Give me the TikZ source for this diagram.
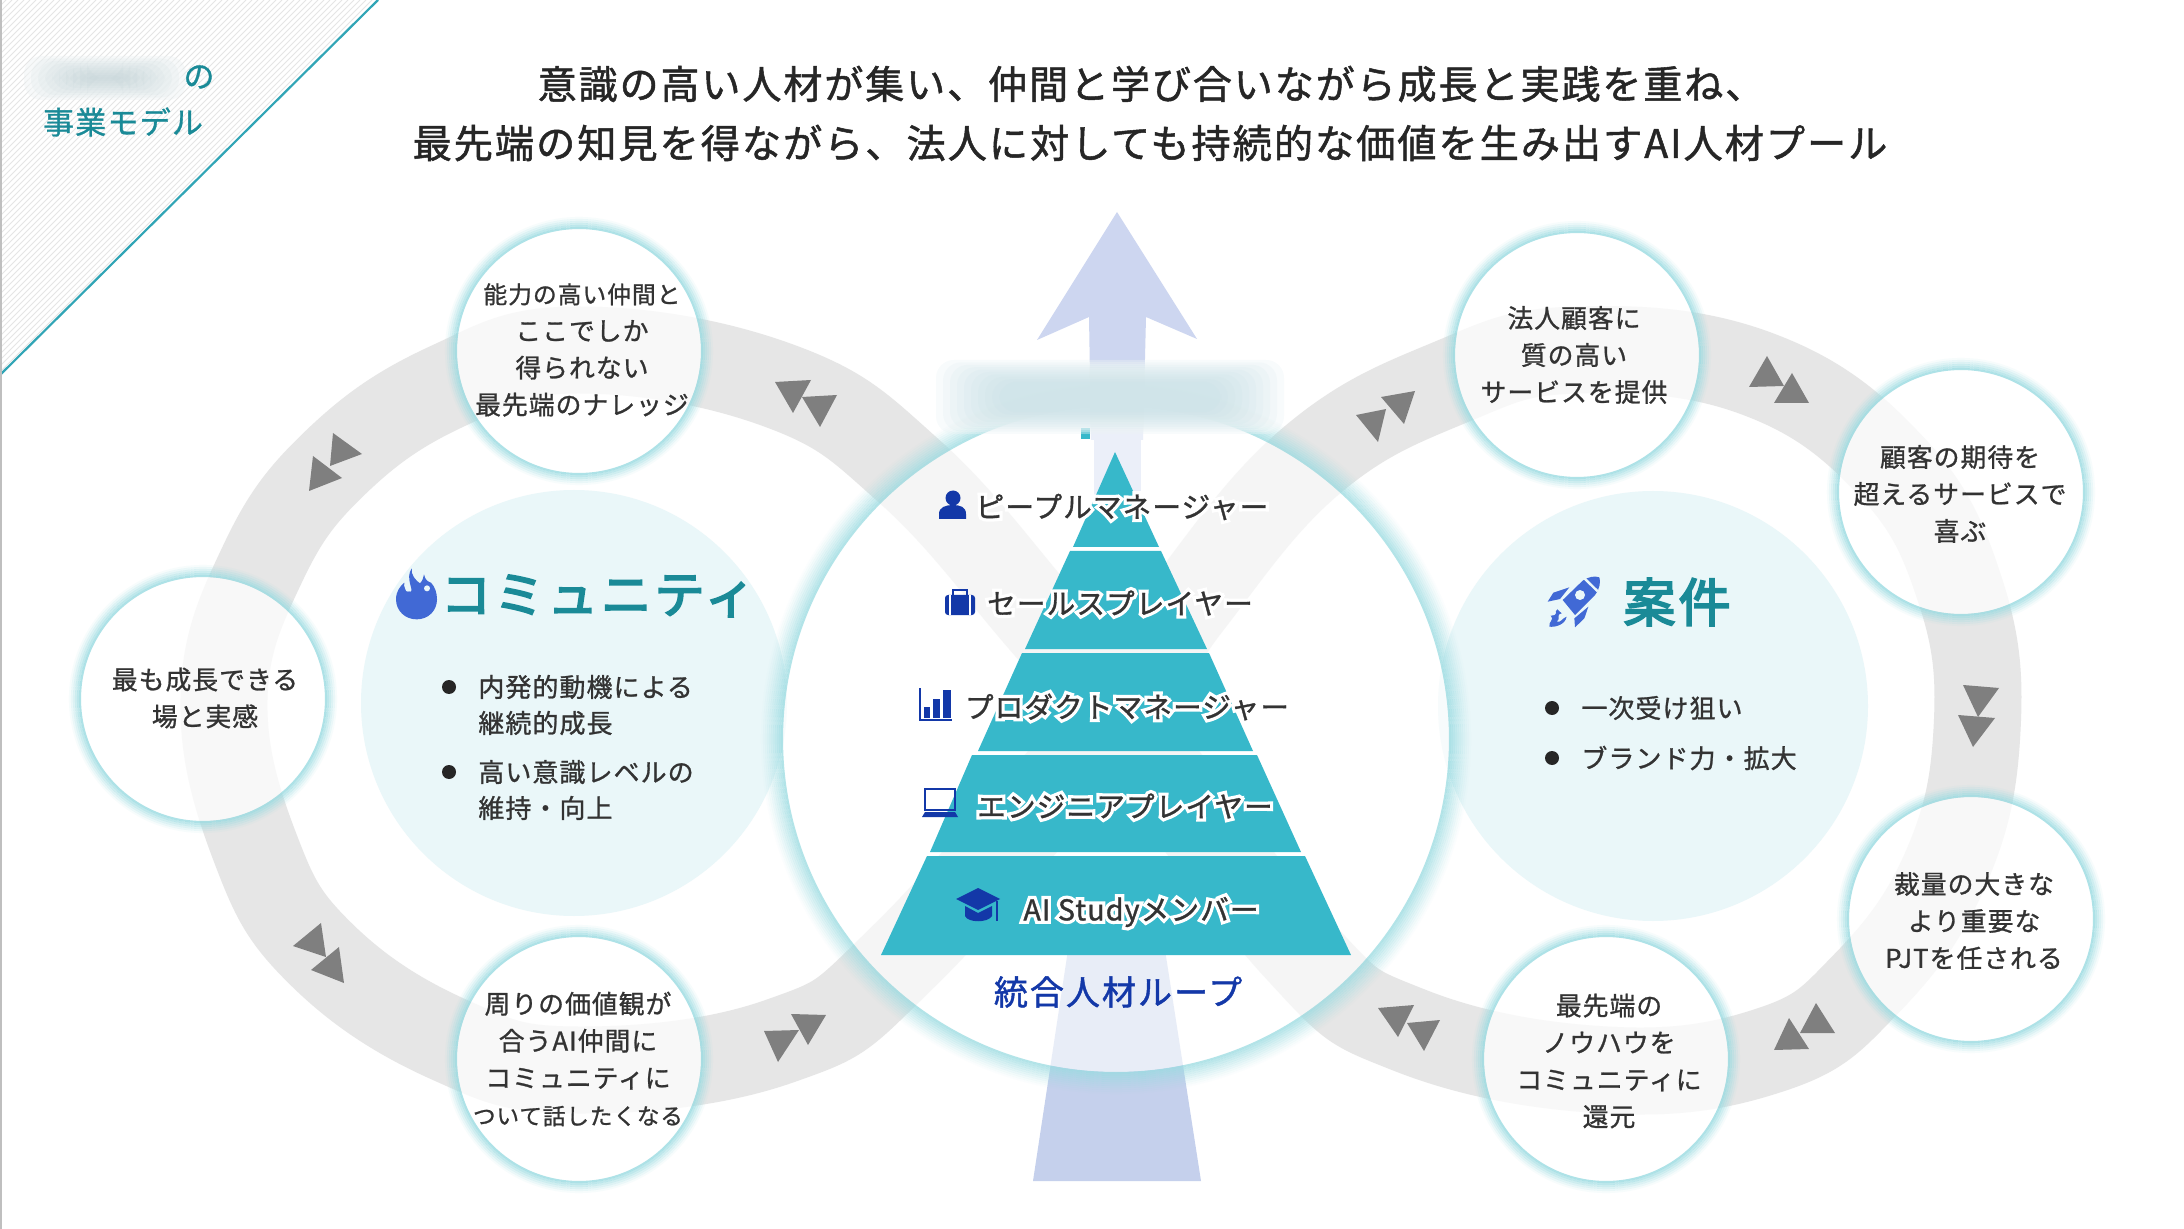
\documentclass[tikz,border=0pt]{standalone}
\usepackage{fontspec}
\setmainfont{Noto Sans CJK JP}
\newfontfamily\lsbub[LetterSpace=4,FakeBold=1.0]{Noto Sans CJK JP}
\newfontfamily\lstitle[LetterSpace=5,FakeBold=1.3]{Noto Sans CJK JP}
\newfontfamily\lslab[LetterSpace=4,FakeBold=1.1]{Noto Sans CJK JP}
\newfontfamily\lshalo[LetterSpace=4,FakeBold=24]{Noto Sans CJK JP}
\newfontfamily\lsmed[LetterSpace=6,FakeBold=1.3]{Noto Sans CJK JP}
\newfontfamily\lshead[LetterSpace=6,FakeBold=3.5]{Noto Sans CJK JP}
\definecolor{ringg}{HTML}{E6E6E6}
\definecolor{innerc}{HTML}{EAF7F9}
\definecolor{glowc}{HTML}{9ADBE1}
\definecolor{tealp}{HTML}{37B8CA}
\definecolor{tealt}{HTML}{1A8A97}
\definecolor{navy}{HTML}{1338A8}
\definecolor{bluei}{HTML}{4169D5}
\definecolor{arrowu}{HTML}{CDD6F0}
\definecolor{arrowd}{HTML}{C5D0EC}
\definecolor{triang}{HTML}{7F7F7F}
\definecolor{ink}{HTML}{333333}
\definecolor{blurc}{HTML}{BFDDE3}
\definecolor{blurd}{HTML}{B9CDD2}
\tikzset{
  tri/.style={fill=triang},
  bubtxt/.style={align=center,text=ink,font=\lsbub\fontsize{12.9}{18.5}\selectfont},
  listtxt/.style={anchor=west,align=left,text=ink,font=\lsbub\fontsize{13}{18}\selectfont},
  dot/.style={fill=black!85},
  pyr/.style={fill=tealp},
  lab/.style={text=ink,font=\lslab\fontsize{14.3}{18}\selectfont,inner sep=0pt},
  ico/.style={fill=navy,draw=none}
}
\newcommand\halotext[1]{\leavevmode\rlap{\color{white}\lshalo\fontsize{14.3}{18}\selectfont #1}#1}
\newcommand\narrowa[1]{{\fontsize{11.9}{18.5}\selectfont #1}}
\newcommand\narrowb[1]{{\fontsize{11.3}{18.5}\selectfont #1}}
\newcommand\gcircle[5]{% x y r steps alpha
  \foreach \k in {1,...,#4}{
    \pgfmathsetmacro\op{#5*(1-(\k-1)/#4)^1.3}
    \draw[glowc,opacity=\op,line width=1.05pt] (#1,#2) circle[radius=#3+(\k-0.5)*2];
  }
}
\newcommand\blurblob[5]{% x0 y0 x1 y1 colour
  \foreach \k in {0,...,9}{
    \fill[white,opacity=.3,rounded corners=9pt] (#1+\k*2,#2+\k*2) rectangle (#3-\k*2,#4-\k*2);
  }
  \foreach \k in {0,...,9}{
    \fill[#5,opacity=.1,rounded corners=9pt] (#1+\k*7,#2+\k*2.4) rectangle (#3-\k*7,#4-\k*2.4);
  }
}
\begin{document}
\begin{tikzpicture}[x=0.5pt,y=-0.5pt]
\useasboundingbox (0,0) rectangle (2184,1229);
\fill[white] (0,0) rectangle (2184,1229);
% corner
\begin{scope}
\clip (0,0) -- (378,0) -- (0,375) -- cycle;
\foreach \i in {0,...,130}{
  \draw[black!10,line width=.5pt] (\i*6,0) -- (0,\i*6);
}
\end{scope}
\draw[tealp!90!black,line width=1.1pt] (378,0) -- (0,375);
\fill[black!25] (0,0) rectangle (2,1229);
\blurblob{24}{56}{186}{100}{blurd}
\node[inner sep=0pt,text=tealt,font=\lsbub\fontsize{15.5}{18}\selectfont] (corner1) at (199,77) {の};
\node[inner sep=0pt,text=tealt,font=\lsbub\fontsize{15.5}{18}\selectfont] (corner2) at (123,122) {事業モデル};
% title
\node[inner sep=0pt,text=black!85,font=\lstitle\fontsize{19.5}{24}\selectfont] (title1) at (1151,84) {意識の高い人材が集い、仲間と学び合いながら成長と実践を重ね、};
\node[inner sep=0pt,text=black!85,font=\lstitle\fontsize{19.6}{24}\selectfont] (title2) at (1150,143) {最先端の知見を得ながら、法人に対しても持続的な価値を生み出すAI人材プール};
% infinity loop
\draw[ringg,line width=43.5pt,line join=round] plot[smooth cycle,tension=0.7] coordinates {
  (1116,712) (1188,605) (1311,461) (1451,382) (1577,350) (1755,373) (1890,465) (1960,590) (1977,730) (1945,870) (1865,985) (1770,1050) (1606,1070) (1409,1030) (1296,947)
  (1116,712) (1038,616) (910,472) (780,386) (580,350) (450,385) (336,462) (262,565) (224,699) (256,850) (322,955) (450,1040) (579,1070) (780,1041) (905,955)};
% inner discs
\fill[innerc] (574,703) circle[radius=213];
\fill[innerc] (1653,706) circle[radius=215];
% triangles left
\fill[tri] (333,433) -- (362,454) -- (330,466) -- cycle;
\fill[tri] (313,456) -- (342,478) -- (309,491) -- cycle;
\fill[tri] (775,382) -- (811,380) -- (793,413) -- cycle;
\fill[tri] (802,397) -- (837,395) -- (820,427) -- cycle;
\fill[tri] (321,923) -- (326,957) -- (293,946) -- cycle;
\fill[tri] (339,947) -- (344,983) -- (311,970) -- cycle;
\fill[tri] (791,1014) -- (826,1015) -- (808,1045) -- cycle;
\fill[tri] (764,1031) -- (799,1030) -- (778,1062) -- cycle;
% triangles right
\fill[tri] (1381,397) -- (1415,391) -- (1404,424) -- cycle;
\fill[tri] (1356,415) -- (1386,409) -- (1378,442) -- cycle;
\fill[tri] (1767,356) -- (1784,386) -- (1749,387) -- cycle;
\fill[tri] (1792,373) -- (1809,403) -- (1774,403) -- cycle;
\fill[tri] (1963,685) -- (1999,688) -- (1978,717) -- cycle;
\fill[tri] (1958,715) -- (1995,718) -- (1973,747) -- cycle;
\fill[tri] (1816,1003) -- (1835,1033) -- (1800,1033) -- cycle;
\fill[tri] (1789,1018) -- (1809,1049) -- (1774,1050) -- cycle;
\fill[tri] (1378,1008) -- (1414,1005) -- (1398,1037) -- cycle;
\fill[tri] (1407,1023) -- (1440,1020) -- (1424,1051) -- cycle;
% big arrows
\fill[arrowu] (1117,212) -- (1197,339) -- (1146,317) -- (1143,440) -- (1091,440) -- (1089,317) -- (1037,340) -- cycle;
\fill[arrowu] (1094,430) rectangle (1141,540);
\fill[arrowd] (1033,1181) -- (1068,950) -- (1165,950) -- (1201,1181) -- cycle;
% central circle
\fill[white,opacity=.62] (1116,739) circle[radius=333];
\gcircle{1116}{739}{333}{11}{.75}
% bubbles
\foreach \x/\y in {579/351,203/699,579/1059,1577/355,1961/492,1971/919,1606/1059}{
  \fill[white,opacity=.72] (\x,\y) circle[radius=122];
  \gcircle{\x}{\y}{122}{6}{.8}
}
% teal bit and blur
\fill[tealp] (1081,428) rectangle (1090,439);
\blurblob{936}{360}{1284}{434}{blurc}
% pyramid
\fill[pyr] (1115,452) -- (1159,547) -- (1073,547) -- cycle;
\fill[pyr] (1070,551) -- (1161,551) -- (1207,649) -- (1025,649) -- cycle;
\fill[pyr] (1022,653) -- (1209,653) -- (1253,751) -- (978,751) -- cycle;
\fill[pyr] (972,755) -- (1257,755) -- (1301,852) -- (930,852) -- cycle;
\fill[pyr] (927,856) -- (1305,856) -- (1351,955) -- (881,955) -- cycle;
% pyramid labels
\node[lab] (lab1) at (1122,507) {\halotext{ピープルマネージャー}};
\node[lab] (lab2) at (1120,603) {\halotext{セールスプレイヤー}};
\node[lab] (lab3) at (1127,707) {\halotext{プロダクトマネージャー}};
\node[lab] (lab4) at (1125,806) {\halotext{エンジニアプレイヤー}};
\node[lab] (lab5) at (1141,912) {\halotext{AI Studyメンバー}};
\node[inner sep=0pt,text=navy,font=\lsmed\fontsize{17}{20}\selectfont] (loop) at (1118,992) {統合人材ループ};
% icons
\fill[ico] (953,498) circle[radius=7.5];
\fill[ico] (939,519) -- (939,514) .. controls (939,507) and (946,505) .. (953,505) .. controls (960,505) and (966,507) .. (966,514) -- (966,519) -- cycle;
\fill[ico,rounded corners=1.5pt] (945,595) rectangle (975,615);
\draw[navy,line width=1.2pt] (953,595) -- (953,590) -- (967,590) -- (967,595);
\draw[white,line width=.8pt] (950,595) -- (950,615) (970,595) -- (970,615);
\draw[navy,line width=.6pt] (920,688) -- (920,720) -- (952,720);
\fill[ico] (924,707) rectangle (930,718);
\fill[ico] (933,699) rectangle (940,718);
\fill[ico] (943,690) rectangle (951,718);
\draw[navy,line width=1.1pt] (925,789) rectangle (955,810);
\fill[ico] (925,812) -- (955,812) -- (958,817) -- (922,817) -- cycle;
\fill[ico] (978,888) -- (1000,899) -- (978,910) -- (956,899) -- cycle;
\fill[ico] (965,906) -- (978,913) -- (992,906) -- (992,916) .. controls (988,923) and (968,923) .. (965,916) -- cycle;
\draw[navy,line width=.9pt] (997,901) -- (997,921);
% flame
\begin{scope}[shift={(370,540)},x=0.1667pt,y=-0.1667pt]
\fill[bluei] (78,178) .. controls (78,155) and (90,138) .. (103,128) .. controls (100,140) and (106,155) .. (122,155) .. controls (132,150) and (105,115) .. (125,85) .. controls (122,105) and (138,122) .. (150,130) .. controls (158,122) and (160,112) .. (162,103) .. controls (165,118) and (172,125) .. (183,128) .. controls (195,140) and (201,160) .. (201,178) .. controls (201,212) and (175,238) .. (140,238) .. controls (105,238) and (78,212) .. (78,178) -- cycle;
\fill[innerc] (114,147) circle[radius=8];
\fill[innerc] (171,145) circle[radius=9];
\end{scope}
% rocket
\begin{scope}[shift={(1520,550)},x=0.1667pt,y=-0.1667pt]
\fill[bluei] (128,150) -- (165,195) -- (225,135) .. controls (240,115) and (242,95) .. (238,82) .. controls (225,77) and (205,80) .. (188,92) -- cycle;
\draw[innerc,line width=1.2pt] (193,85) -- (233,124);
\fill[innerc] (180,135) circle[radius=15];
\fill[bluei] (83,155) -- (100,128) -- (148,112) -- (120,147) -- cycle;
\fill[bluei] (165,232) -- (163,205) -- (205,170) -- (193,205) -- cycle;
\fill[bluei] (112,178) .. controls (100,185) and (120,195) .. (92,197) .. controls (105,208) and (85,215) .. (88,230) .. controls (105,232) and (135,225) .. (140,200) .. controls (125,205) and (125,218) .. (110,215) .. controls (125,205) and (105,195) .. (125,190) -- cycle;
\end{scope}
% headings
\node[inner sep=0pt,text=tealt,font=\lshead\fontsize{25.2}{28}\selectfont] (comm) at (598,596) {コミュニティ};
\node[inner sep=0pt,text=tealt,font=\lshead\fontsize{26}{30}\selectfont] (case) at (1677,602) {案件};
% lists
\fill[dot] (449,687) circle[radius=7];
\fill[dot] (449,772) circle[radius=7];
\node[listtxt,inner sep=0pt] (l1) at (478,705) {内発的動機による\\継続的成長};
\node[listtxt,inner sep=0pt] (l2) at (478,790) {高い意識レベルの\\維持・向上};
\fill[dot] (1552,708) circle[radius=7];
\fill[dot] (1552,758) circle[radius=7];
\node[listtxt,inner sep=0pt] (r1) at (1581,708) {一次受け狙い};
\node[listtxt,inner sep=0pt] (r2) at (1581,758) {ブランド力・拡大};
% bubble text
\node[bubtxt] (b1) at (582,350) {\narrowa{能力の高い仲間と}\\ここでしか\\得られない\\最先端のナレッジ};
\node[bubtxt] (b2) at (205,698) {最も成長できる\\場と実感};
\node[bubtxt] (b3) at (578,1059) {周りの価値観が\\合うAI仲間に\\コミュニティに\\\narrowb{ついて話したくなる}};
\node[bubtxt] (b4) at (1574,355) {法人顧客に\\質の高い\\サービスを提供};
\node[bubtxt] (b5) at (1960,494) {顧客の期待を\\超えるサービスで\\喜ぶ};
\node[bubtxt] (b6) at (1974,921) {裁量の大きな\\より重要な\\PJTを任される};
\node[bubtxt] (b7) at (1609,1061) {最先端の\\ノウハウを\\コミュニティに\\還元};
\end{tikzpicture}
\end{document}
